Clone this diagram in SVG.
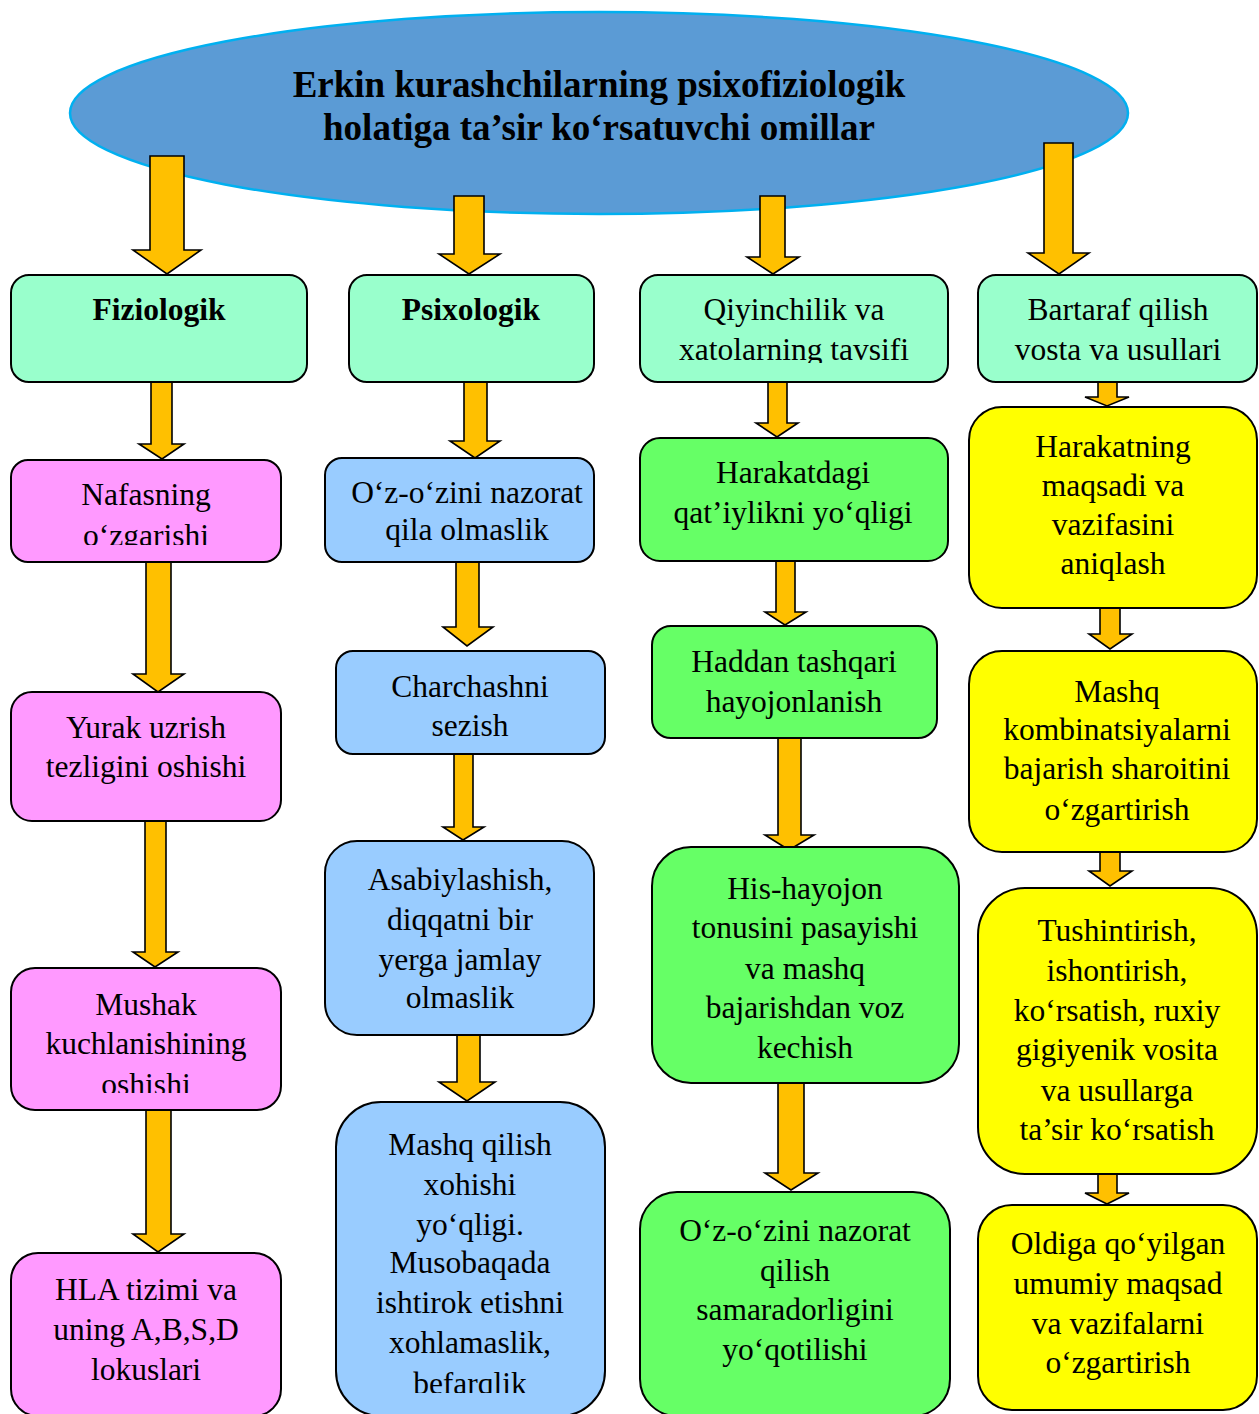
<svg xmlns="http://www.w3.org/2000/svg" width="1259" height="1414" viewBox="0 0 1259 1414">
<style>
text{font-family:"Liberation Serif","Times New Roman",serif;font-size:31.5px;fill:#000;text-anchor:middle}
.title{font-size:37px;font-weight:bold}
.b{font-weight:bold}
.box{stroke:#000;stroke-width:2}
.g1{fill:#99FFCC}
.pk{fill:#FF99FF}
.lb{fill:#99CCFF}
.gr{fill:#66FF66}
.yl{fill:#FFFF00}
.arr{fill:#FFC000;stroke:#000;stroke-width:1.6;stroke-linejoin:miter}
</style>
<defs>
<clipPath id="cNaf"><rect x="0" y="440" width="300" height="105"/></clipPath>
<clipPath id="cQiy"><rect x="630" y="270" width="330" height="93"/></clipPath>
<clipPath id="cMus"><rect x="0" y="960" width="300" height="133"/></clipPath>
<clipPath id="cMq"><rect x="320" y="1100" width="300" height="293"/></clipPath>
</defs>
<g id="root">
<ellipse cx="599" cy="113" rx="529" ry="101" fill="#5B9BD5" stroke="#00B0F0" stroke-width="2.5"/>
<text class="title" x="599" y="97">Erkin kurashchilarning psixofiziologik</text>
<text class="title" x="599" y="140">holatiga ta’sir ko‘rsatuvchi omillar</text>
</g>
<g id="connectors">
<path class="arr" d="M150,156 L184,156 L184,250 L201,250 L167,274 L133,250 L150,250 Z"/>
<path class="arr" d="M454,196 L484,196 L484,254 L500,254 L469,274 L439,254 L454,254 Z"/>
<path class="arr" d="M760,196 L785,196 L785,257 L799,257 L773,274 L747,257 L760,257 Z"/>
<path class="arr" d="M1044,143 L1073,143 L1073,253 L1089,253 L1059,274 L1028,253 L1044,253 Z"/>
<path class="arr" d="M151,382 L172,382 L172,444 L184,444 L162,459 L139,444 L151,444 Z"/>
<path class="arr" d="M146,562 L171,562 L171,674 L184,674 L158,692 L133,674 L146,674 Z"/>
<path class="arr" d="M145,821 L166,821 L166,952 L178,952 L155,967 L133,952 L145,952 Z"/>
<path class="arr" d="M146,1110 L171,1110 L171,1234 L184,1234 L158,1252 L133,1234 L146,1234 Z"/>
<path class="arr" d="M464,382 L487,382 L487,441 L500,441 L475,458 L450,441 L464,441 Z"/>
<path class="arr" d="M456,562 L479,562 L479,627 L493,627 L467,646 L443,627 L456,627 Z"/>
<path class="arr" d="M454,754 L473,754 L473,827 L484,827 L463,840 L443,827 L454,827 Z"/>
<path class="arr" d="M457,1035 L480,1035 L480,1082 L495,1082 L467,1101 L439,1082 L457,1082 Z"/>
<path class="arr" d="M768,382 L787,382 L787,423 L798,423 L777,437 L756,423 L768,423 Z"/>
<path class="arr" d="M776,561 L795,561 L795,612 L806,612 L785,625 L765,612 L776,612 Z"/>
<path class="arr" d="M778,738 L801,738 L801,835 L814,835 L789,850 L765,835 L778,835 Z"/>
<path class="arr" d="M778,1083 L804,1083 L804,1173 L818,1173 L791,1190 L765,1173 L778,1173 Z"/>
<path class="arr" d="M1098,382 L1117,382 L1117,397 L1129,397 L1107,406 L1085,397 L1098,397 Z"/>
<path class="arr" d="M1100,608 L1120,608 L1120,634 L1132,634 L1110,649 L1089,634 L1100,634 Z"/>
<path class="arr" d="M1100,852 L1120,852 L1120,871 L1132,871 L1110,886 L1089,871 L1100,871 Z"/>
<path class="arr" d="M1098,1174 L1117,1174 L1117,1193 L1129,1193 L1107,1204 L1085,1193 L1098,1193 Z"/>
</g>
<g id="n-fiziologik">
<rect class="box g1" x="11" y="275" width="296" height="107" rx="18"/>
<text class="b" x="159" y="320">Fiziologik</text>
</g>
<g id="n-psixologik">
<rect class="box g1" x="349" y="275" width="245" height="107" rx="18"/>
<text class="b" x="471" y="320">Psixologik</text>
</g>
<g id="n-qiyinchilik">
<rect class="box g1" x="640" y="275" width="308" height="107" rx="18"/>
<text x="794" y="320">Qiyinchilik va</text>
<text x="794" y="360" clip-path="url(#cQiy)">xatolarning tavsifi</text>
</g>
<g id="n-bartaraf">
<rect class="box g1" x="978" y="275" width="279" height="107" rx="18"/>
<text x="1118" y="320">Bartaraf qilish</text>
<text x="1118" y="360">vosta va usullari</text>
</g>
<g id="n-nafas">
<rect class="box pk" x="11" y="460" width="270" height="102" rx="17"/>
<text x="146" y="505">Nafasning</text>
<text x="146" y="546" clip-path="url(#cNaf)">o‘zgarishi</text>
</g>
<g id="n-yurak">
<rect class="box pk" x="11" y="692" width="270" height="129" rx="21"/>
<text x="146" y="738">Yurak uzrish</text>
<text x="146" y="777">tezligini oshishi</text>
</g>
<g id="n-mushak">
<rect class="box pk" x="11" y="968" width="270" height="142" rx="24"/>
<text x="146" y="1015">Mushak</text>
<text x="146" y="1054">kuchlanishining</text>
<text x="146" y="1095" clip-path="url(#cMus)">oshishi</text>
</g>
<g id="n-hla">
<rect class="box pk" x="11" y="1253" width="270" height="163" rx="27"/>
<text x="146" y="1300">HLA tizimi va</text>
<text x="146" y="1340">uning A,B,S,D</text>
<text x="146" y="1380">lokuslari</text>
</g>
<g id="n-ozozini">
<rect class="box lb" x="325" y="458" width="269" height="104" rx="17"/>
<text x="467" y="503">O‘z-o‘zini nazorat</text>
<text x="467" y="540">qila olmaslik</text>
</g>
<g id="n-charchash">
<rect class="box lb" x="336" y="651" width="269" height="103" rx="17"/>
<text x="470" y="697">Charchashni</text>
<text x="470" y="736">sezish</text>
</g>
<g id="n-asabiy">
<rect class="box lb" x="325" y="841" width="269" height="194" rx="32"/>
<text x="460" y="890">Asabiylashish,</text>
<text x="460" y="930">diqqatni bir</text>
<text x="460" y="970">yerga jamlay</text>
<text x="460" y="1008">olmaslik</text>
</g>
<g id="n-mashqqilish">
<rect class="box lb" x="336" y="1102" width="269" height="314" rx="45"/>
<text x="470" y="1155">Mashq qilish</text>
<text x="470" y="1195">xohishi</text>
<text x="470" y="1235">yo‘qligi.</text>
<text x="470" y="1273">Musobaqada</text>
<text x="470" y="1313">ishtirok etishni</text>
<text x="470" y="1353">xohlamaslik,</text>
<text x="470" y="1394" clip-path="url(#cMq)">befarqlik</text>
</g>
<g id="n-harakatdagi">
<rect class="box gr" x="640" y="438" width="308" height="123" rx="20"/>
<text x="793" y="483">Harakatdagi</text>
<text x="793" y="523">qat’iylikni yo‘qligi</text>
</g>
<g id="n-haddan">
<rect class="box gr" x="652" y="626" width="285" height="112" rx="19"/>
<text x="794" y="672">Haddan tashqari</text>
<text x="794" y="712">hayojonlanish</text>
</g>
<g id="n-hishayojon">
<rect class="box gr" x="652" y="847" width="307" height="236" rx="39"/>
<text x="805" y="899">His-hayojon</text>
<text x="805" y="938">tonusini pasayishi</text>
<text x="805" y="979">va mashq</text>
<text x="805" y="1018">bajarishdan voz</text>
<text x="805" y="1058">kechish</text>
</g>
<g id="n-ozozini2">
<rect class="box gr" x="640" y="1192" width="310" height="224" rx="37"/>
<text x="795" y="1241">O‘z-o‘zini nazorat</text>
<text x="795" y="1281">qilish</text>
<text x="795" y="1320">samaradorligini</text>
<text x="795" y="1360">yo‘qotilishi</text>
</g>
<g id="n-harakatning">
<rect class="box yl" x="969" y="407" width="288" height="201" rx="33"/>
<text x="1113" y="457">Harakatning</text>
<text x="1113" y="496">maqsadi va</text>
<text x="1113" y="535">vazifasini</text>
<text x="1113" y="574">aniqlash</text>
</g>
<g id="n-mashqkomb">
<rect class="box yl" x="969" y="651" width="288" height="201" rx="33"/>
<text x="1117" y="702">Mashq</text>
<text x="1117" y="740">kombinatsiyalarni</text>
<text x="1117" y="779">bajarish sharoitini</text>
<text x="1117" y="820">o‘zgartirish</text>
</g>
<g id="n-tushintirish">
<rect class="box yl" x="978" y="888" width="279" height="286" rx="47"/>
<text x="1117" y="941">Tushintirish,</text>
<text x="1117" y="981">ishontirish,</text>
<text x="1117" y="1021">ko‘rsatish, ruxiy</text>
<text x="1117" y="1060">gigiyenik vosita</text>
<text x="1117" y="1101">va usullarga</text>
<text x="1117" y="1140">ta’sir ko‘rsatish</text>
</g>
<g id="n-oldiga">
<rect class="box yl" x="978" y="1205" width="279" height="205" rx="34"/>
<text x="1118" y="1254">Oldiga qo‘yilgan</text>
<text x="1118" y="1294">umumiy maqsad</text>
<text x="1118" y="1334">va vazifalarni</text>
<text x="1118" y="1373">o‘zgartirish</text>
</g>
</svg>
